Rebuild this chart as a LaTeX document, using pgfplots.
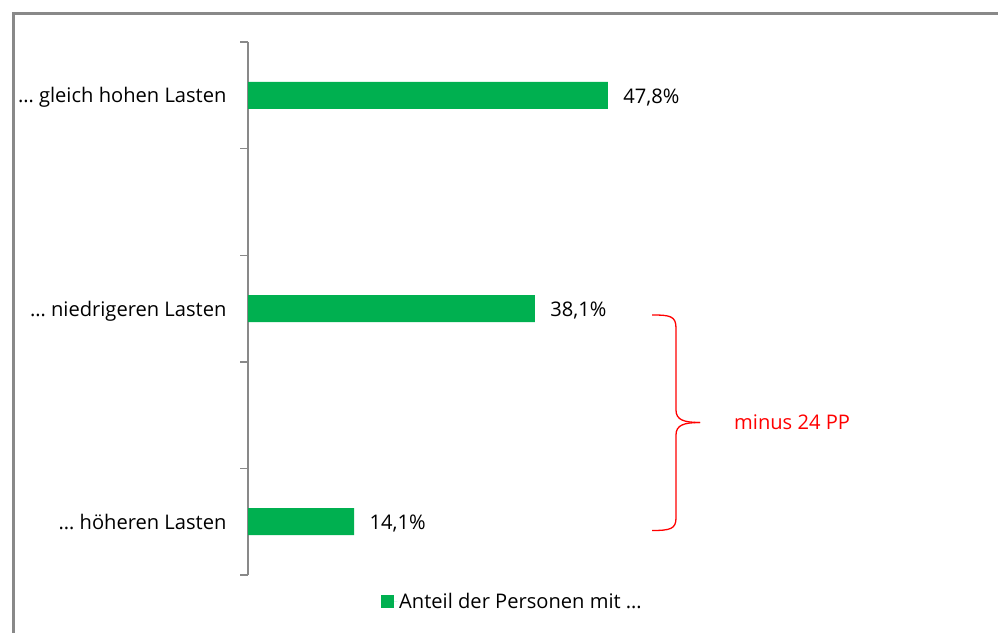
\documentclass[border=0pt]{standalone}
\usepackage{fontspec}
\setmainfont{Open Sans}
\usepackage{pgfplots}
\pgfplotsset{compat=1.18}
\definecolor{bargreen}{HTML}{00B050}
\definecolor{framegray}{HTML}{898989}
\newcommand{\chartfont}{\fontsize{20.2}{24}\selectfont}
\begin{document}
\begin{tikzpicture}[x=1bp,y=1bp]
\path[use as bounding box] (0,0) rectangle (998,-633);
\draw[framegray, line width=2.2bp] (13.5,-633) -- (13.5,-13.5) -- (998,-13.5);
\begin{axis}[
  at={(248bp,-575bp)}, anchor=south west,
  scale only axis, width=451.8bp, height=533bp,
  xmin=0, xmax=60, ymin=-0.5, ymax=4.5, y dir=reverse,
  axis x line=none, axis y line*=left,
  ytick={0,2,4},
  yticklabels={{… gleich hohen Lasten},{… niedrigeren Lasten},{… höheren Lasten}},
  major tick length=0pt,
  minor ytick={-0.5,0.5,1.5,2.5,3.5,4.5},
  minor tick length=8bp, tick align=outside,
  y axis line style={framegray, line width=1.4bp},
  minor tick style={framegray, line width=1.4bp},
  yticklabel style={font=\chartfont, text=black, xshift=-18bp, yshift=-5bp, text height=0.75em, text depth=0.24em},
  legend style={at={(0.5854,-0.049)}, anchor=center, draw=none, fill=none, font=\chartfont, inner sep=0pt},
  legend image code/.code={\fill[bargreen] (0bp,-6.5bp) rectangle (13bp,6.5bp); \path (0bp,0bp) -- (16bp,0bp);},
  nodes near coords={\pgfmathprintnumber[use comma,fixed,fixed zerofill,precision=1,assume math mode=true]{\pgfplotspointmeta}\%},
  nodes near coords style={font=\chartfont, text=black, anchor=west, xshift=12bp, yshift=-2bp},
  point meta=x,
  clip=false,
]
\addplot[xbar, bar width=27bp, fill=bargreen, draw=none] coordinates {(47.8,0) (38.1,2) (14.1,4)};
\addlegendentry{Anteil der Personen mit …}
\end{axis}
\draw[red, line width=1.3bp] (652,-315) .. controls (670,-315) and (676,-316) .. (676,-328) -- (676,-410) .. controls (676,-420) and (684,-422.5) .. (700,-422.5);
\draw[red, line width=1.3bp] (700,-422.5) .. controls (684,-422.5) and (676,-425) .. (676,-435) -- (676,-518) .. controls (676,-529) and (670,-530.5) .. (652,-530.5);
\node[red, anchor=west, inner sep=0pt, font=\chartfont] at (734,-422.5) {minus 24 PP};
\end{tikzpicture}
\end{document}
